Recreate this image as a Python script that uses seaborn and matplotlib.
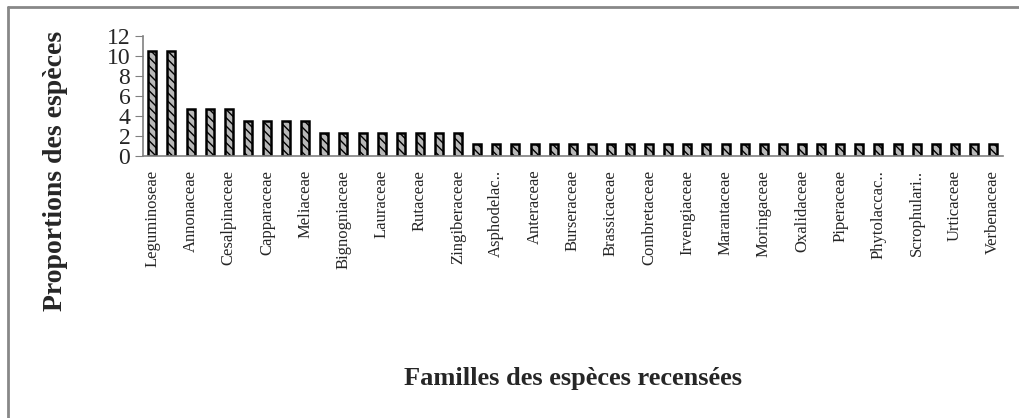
import pandas as pd
import numpy as np
import seaborn as sns
import matplotlib.pyplot as plt
from matplotlib.lines import Line2D

# proportions (%) per family, 45 families, only every other name is shown on the axis
values = [10.47, 10.47,
          4.65, 4.65, 4.65,
          3.49, 3.49, 3.49, 3.49,
          2.33, 2.33, 2.33, 2.33, 2.33, 2.33, 2.33, 2.33,
          1.16, 1.16, 1.16, 1.16, 1.16, 1.16, 1.16, 1.16, 1.16, 1.16,
          1.16, 1.16, 1.16, 1.16, 1.16, 1.16, 1.16, 1.16, 1.16, 1.16,
          1.16, 1.16, 1.16, 1.16, 1.16, 1.16, 1.16, 1.16]
shown_labels = ['Leguminoseae', 'Annonaceae', 'Cesalpinaceae', 'Capparaceae', 'Meliaceae',
                'Bignogniaceae', 'Lauraceae', 'Rutaceae', 'Zingiberaceae', 'Asphodelac..',
                'Anteraceae', 'Burseraceae', 'Brassicaceae', 'Combretaceae', 'Irvengiaceae',
                'Marantaceae', 'Moringaceae', 'Oxalidaceae', 'Piperaceae', 'Phytolaccac..',
                'Scrophulari..', 'Urticaceae', 'Verbenaceae']
y_ticks = [0, 2, 4, 6, 8, 10, 12]

sns.set_style("white")
plt.rcParams['font.family'] = ['Liberation Serif', 'DejaVu Serif']

df = pd.DataFrame({'pos': np.arange(len(values)), 'prop': values})

fig = plt.figure(figsize=(10.2, 4.18), dpi=100)
ax = fig.add_axes([0.140, 0.627, 0.843, 0.287])

sns.barplot(data=df, x='pos', y='prop', width=0.42, color='#b8b8b8',
            edgecolor='black', linewidth=1.8, hatch='\\\\\\\\', ax=ax)

ax.set_xlim(-0.5, len(values) - 0.5)
ax.set_ylim(0, 12)
ax.set_yticks(y_ticks)
ax.set_yticklabels([str(t) for t in y_ticks], fontsize=17)
ax.set_xticks(np.arange(0, len(values), 2))
ax.set_xticklabels(shown_labels, rotation=90, fontsize=12)
ax.tick_params(axis='y', length=6, color='#808080', pad=3, direction='out', left=True)
ax.tick_params(axis='x', length=0, pad=10)
ax.set_xlabel('')
ax.set_ylabel('')
for s in ['top', 'right']:
    ax.spines[s].set_visible(False)
for s in ['left', 'bottom']:
    ax.spines[s].set_color('#808080')
    ax.spines[s].set_linewidth(1.2)

fig.text(55 / 1020, 1 - 171 / 418, 'Proportions des espèces', rotation=90,
         ha='center', va='center', fontsize=20, fontweight='bold')
fig.text(573 / 1020, 1 - 379 / 418, 'Familles des espèces recensées',
         ha='center', va='center', fontsize=19, fontweight='bold')

# outer frame (only left and top edges are visible in the original crop)
fig.add_artist(Line2D([8 / 1020, 8 / 1020], [0, 1 - 7 / 418], transform=fig.transFigure,
                      color='#888888', linewidth=2))
fig.add_artist(Line2D([8 / 1020, 1], [1 - 7 / 418, 1 - 7 / 418], transform=fig.transFigure,
                      color='#888888', linewidth=2))

plt.savefig("out.png", format='png', dpi=100)
